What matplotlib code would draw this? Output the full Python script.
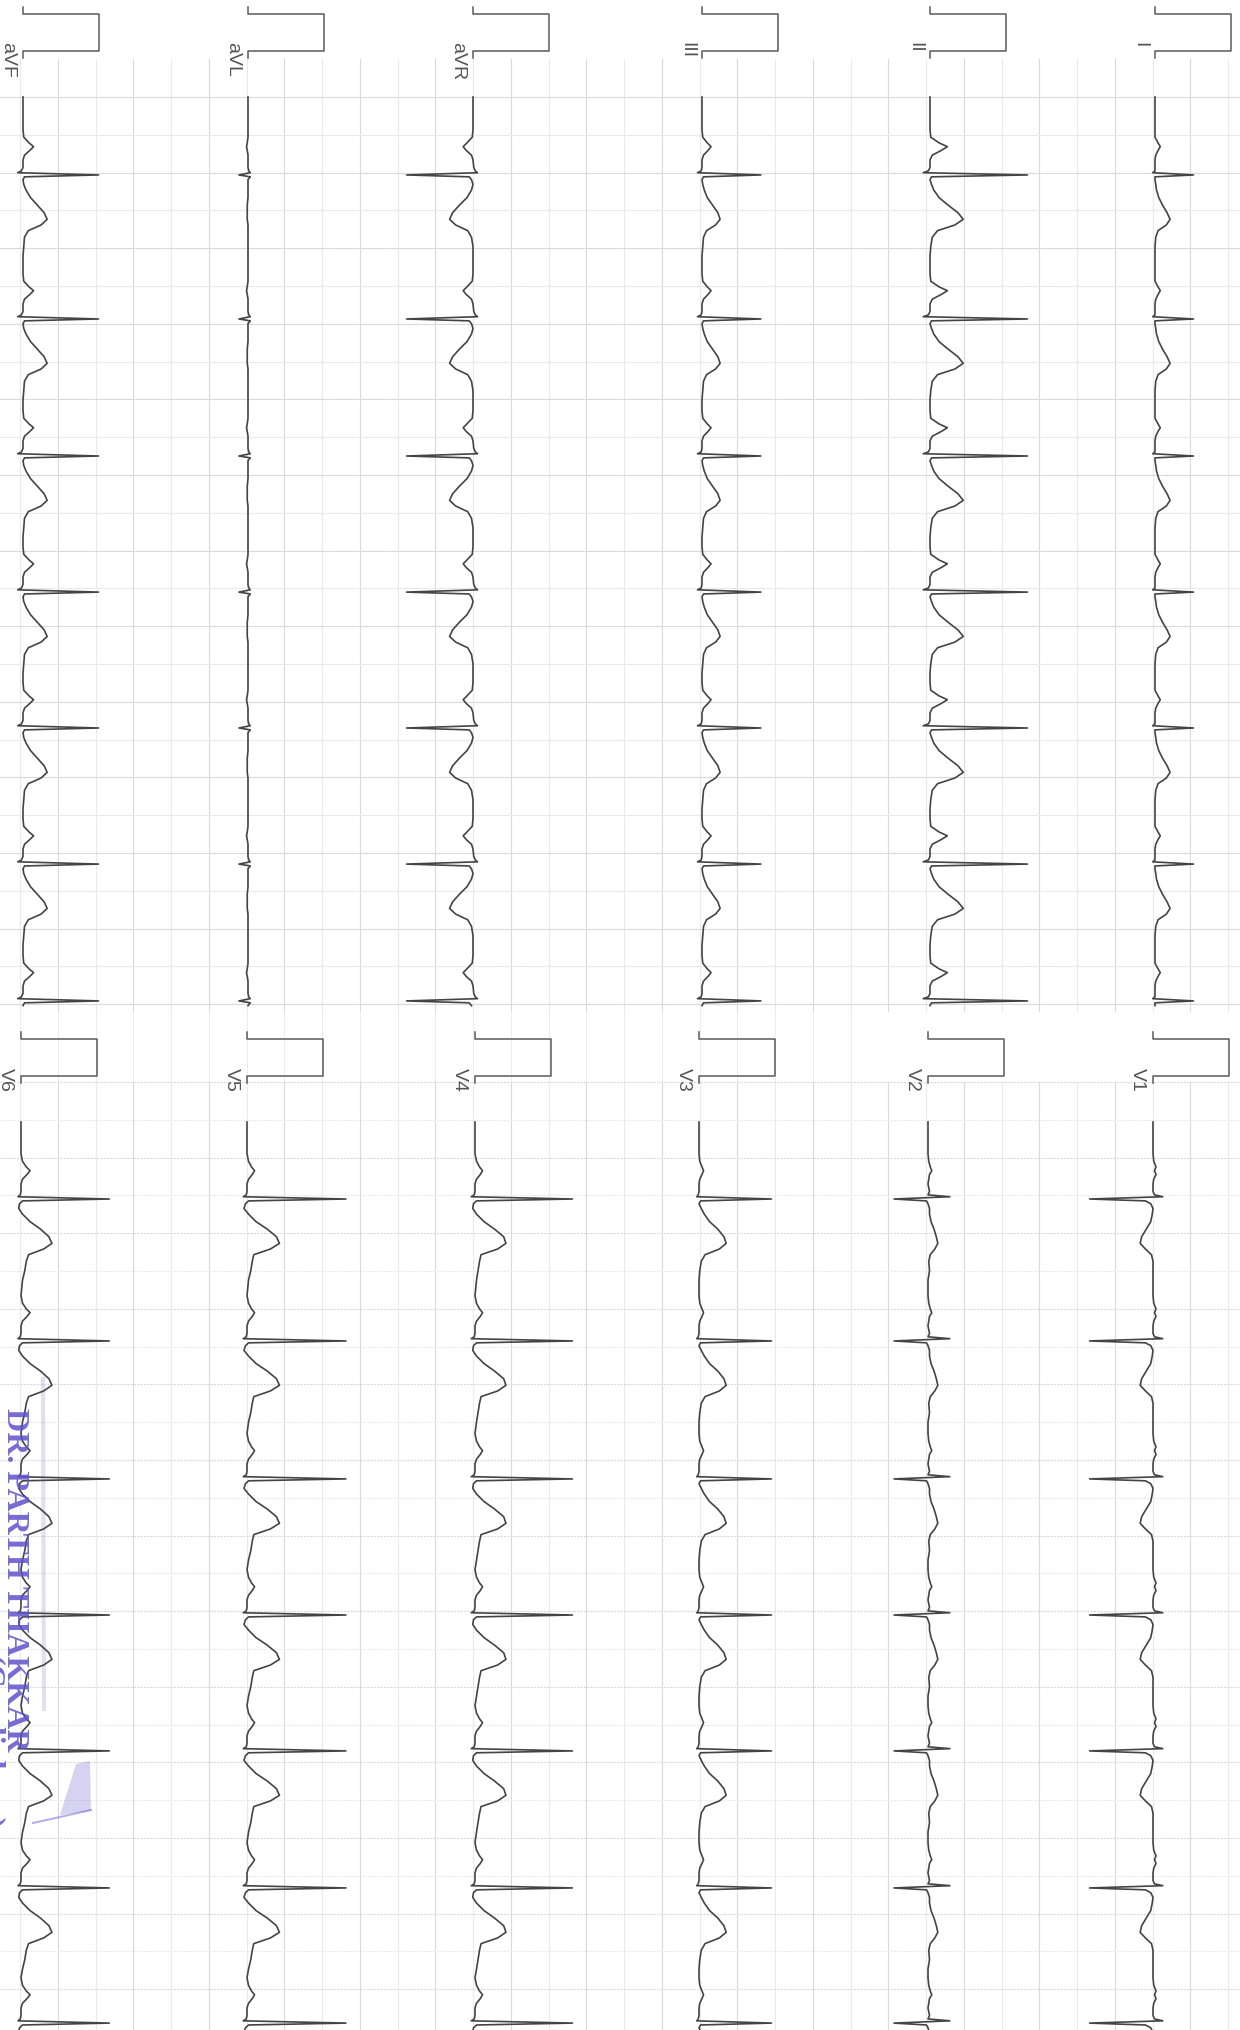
import numpy as np
import matplotlib
matplotlib.use("Agg")
import matplotlib.pyplot as plt
import matplotlib.transforms as mtransforms
from matplotlib.patches import Polygon

# ---- ECG data (scanned page, rotated: time runs down, +mV points right) ----
LEADS_TOP = ["I", "II", "III", "aVR", "aVL", "aVF"]
LEADS_BOTTOM = ["V1", "V2", "V3", "V4", "V5", "V6"]

# R-wave times (s) from the start of each strip
BEATS_TOP = [0.413, 1.176, 1.902, 2.623, 3.343, 4.064, 4.789]
BEATS_BOTTOM = [0.408, 1.160, 1.891, 2.612, 3.332, 4.058, 4.774]
STRIP_LEN = 4.83

# beat template: knot times (ms, relative to R) and amplitudes (mV) per lead
KNOTS_MS = [-240, -200, -170, -150, -130, -105, -80, -40, -22, -12, 0, 10,
            25, 50, 80, 120, 160, 200, 235, 265, 295, 330, 380, 430]

AMP_I = [0, 0, 0.04, 0.07, 0.04, 0.01, 0, 0, 0, -0.03, 0.51, 0.0,
         0.0, 0.01, 0.02, 0.05, 0.10, 0.16, 0.20, 0.15, 0.04, 0.01, 0, 0]
AMP_II = [0, 0.01, 0.12, 0.23, 0.15, 0.03, 0, 0, -0.02, -0.09, 1.29, 0.02,
          0.0, 0.02, 0.05, 0.12, 0.24, 0.37, 0.44, 0.33, 0.10, 0.03, 0.01, 0]
AMP_III = [0, 0.01, 0.07, 0.12, 0.08, 0.02, 0, 0, -0.01, -0.06, 0.78, 0.02,
           0, 0.01, 0.03, 0.07, 0.14, 0.21, 0.24, 0.18, 0.06, 0.02, 0.01, 0]
AMP_AVR = [0, -0.01, -0.08, -0.13, -0.09, -0.02, 0.0, 0.01, 0.03, 0.06, -0.88, -0.05,
           -0.02, 0.0, -0.02, -0.08, -0.18, -0.27, -0.31, -0.23, -0.07, -0.02, 0, 0]
AMP_AVL = [0, 0, -0.01, -0.02, -0.01, 0, 0, 0, 0.01, 0.03, -0.12, 0.03,
           0, 0, 0, 0, -0.01, -0.01, -0.01, 0, 0, 0, 0, 0]
AMP_AVF = [0, 0.01, 0.08, 0.14, 0.09, 0.02, 0, 0, -0.02, -0.07, 1.00, 0.02,
           0, 0.01, 0.04, 0.10, 0.19, 0.28, 0.32, 0.24, 0.07, 0.02, 0.01, 0]

AMP_V1 = [0, 0.01, 0.04, 0.02, 0.04, 0.01, 0, 0, 0.02, 0.13, -0.84, -0.10,
          -0.03, 0, -0.01, -0.03, -0.09, -0.15, -0.17, -0.10, -0.02, 0, 0, 0]
AMP_V2 = [0, 0.01, 0.03, 0.05, 0.02, 0.01, 0, 0.02, 0.0, 0.29, -0.45, -0.02,
          0, 0.02, 0.02, 0.04, 0.08, 0.11, 0.13, 0.09, 0.03, 0.01, 0.02, 0]
AMP_V3 = [0, 0.01, 0.04, 0.06, 0.04, 0.01, 0, 0, -0.01, -0.03, 0.96, 0.02,
          0, 0.03, 0.07, 0.14, 0.25, 0.33, 0.36, 0.27, 0.08, 0.03, 0.01, 0]
AMP_V4 = [0, 0.02, 0.06, 0.10, 0.07, 0.02, 0, 0, -0.01, -0.05, 1.29, 0.02,
          -0.02, -0.03, 0.02, 0.12, 0.26, 0.38, 0.41, 0.30, 0.08, 0.06, 0.04, 0.02]
AMP_V5 = [0, 0.02, 0.06, 0.10, 0.07, 0.02, 0, 0, -0.01, -0.05, 1.31, 0.02,
          -0.02, -0.04, 0.02, 0.12, 0.27, 0.39, 0.43, 0.31, 0.09, 0.07, 0.05, 0.02]
AMP_V6 = [0, 0.02, 0.07, 0.12, 0.08, 0.02, 0, 0, -0.01, -0.04, 1.17, 0.02,
          -0.02, -0.03, 0.02, 0.12, 0.26, 0.37, 0.41, 0.30, 0.10, 0.07, 0.05, 0.02]

AMPS_TOP = [AMP_I, AMP_II, AMP_III, AMP_AVR, AMP_AVL, AMP_AVF]
AMPS_BOTTOM = [AMP_V1, AMP_V2, AMP_V3, AMP_V4, AMP_V5, AMP_V6]

# 1 mV calibration pulse (mV vs s)
CAL_MV = [0, 0, 1, 1, 0, 0]
CAL_S = [0, 0.035, 0.035, 0.235, 0.235, 0.27]

STAMP_NAME = "DR. PARTH THAKKAR"
STAMP_DEPT = "(Cardiology)"

# ---- layout (pixels of the scanned page) ----
W, H = 1240, 2031
PX_PER_MV = 75.5          # 10 mm / mV
PX_PER_S = 188.75         # 25 mm / s
BASE_TOP = [1155, 930, 702, 473, 248, 23]
BASE_BOTTOM = [1153, 928, 699, 475, 247, 21]
Y0_TOP, Y0_BOTTOM = 98, 1123
CAL_Y_TOP, CAL_Y_BOTTOM = 8, 1033
LABEL_Y_TOP, LABEL_Y_BOTTOM = 42, 1068

TRACE = "#444444"
GRID_A = "#d8dae0"
GRID_B = "#e9eaee"


def build_trace(beats, amps):
    t = [0.0]
    v = [0.0]
    for b in beats:
        for k, a in zip(KNOTS_MS, amps):
            tt = b + k / 1000.0
            if 0 <= tt <= STRIP_LEN:
                t.append(tt)
                v.append(a)
    return np.array(v), np.array(t)


fig = plt.figure(figsize=(W / 100, H / 100), dpi=100)
ax = fig.add_axes([0, 0, 1, 1])
ax.set_xlim(0, W)
ax.set_ylim(H, 0)
ax.axis("off")
fig.patch.set_facecolor("white")

# grid paper
xs = 20 + 37.75 * np.arange(0, 33)
for i, x in enumerate(xs):
    c = GRID_A if i % 2 == 1 else GRID_B
    ax.plot([x, x], [60, 1012], color=c, lw=0.8, zorder=0)
    ax.plot([x, x], [1083, H], color=c, lw=0.8, zorder=0)
    if x < 860:
        ax.plot([x, x], [1012, 1083], color=GRID_B, lw=0.6, zorder=0)
for i, y in enumerate(98 + 37.8 * np.arange(0, 25)):
    ax.plot([0, W], [y, y], color=GRID_A if i % 2 == 0 else GRID_B, lw=0.8, zorder=0)
for i, y in enumerate(1083 + 37.8 * np.arange(0, 25)):
    if y < H:
        ax.plot([0, W], [y, y], color=GRID_A if i % 2 == 0 else GRID_B, lw=0.8,
                ls=(0, (2, 1)), zorder=0)

# traces, calibration pulses, labels
for leads, amps, bases, y0, cy, ly, beats in [
        (LEADS_TOP, AMPS_TOP, BASE_TOP, Y0_TOP, CAL_Y_TOP, LABEL_Y_TOP, BEATS_TOP),
        (LEADS_BOTTOM, AMPS_BOTTOM, BASE_BOTTOM, Y0_BOTTOM, CAL_Y_BOTTOM, LABEL_Y_BOTTOM, BEATS_BOTTOM)]:
    for name, amp, bx in zip(leads, amps, bases):
        tr = mtransforms.Affine2D().scale(PX_PER_MV, PX_PER_S).translate(bx, y0) + ax.transData
        v, t = build_trace(beats, amp)
        ax.plot(v, t, color=TRACE, lw=1.2, transform=tr, solid_joinstyle="round", zorder=3)
        trc = mtransforms.Affine2D().scale(PX_PER_MV, PX_PER_S).translate(bx, cy) + ax.transData
        ax.plot(CAL_MV, CAL_S, color="#5a5a5a", lw=1.1, transform=trc, zorder=3)
        ax.text(bx - 7, ly, name, rotation=-90, ha="right", va="top",
                fontsize=14, family=["Liberation Sans", "DejaVu Sans"], color="#555555", zorder=3)

# doctor's stamp
stamp = "#5e52cc"
ax.plot([43, 44], [1380, 1710], color=stamp, lw=3, alpha=0.18, zorder=1)
ax.add_patch(Polygon([[76, 1765], [90, 1762], [91, 1812], [60, 1816]], closed=True,
                     facecolor=stamp, edgecolor="none", alpha=0.25, zorder=1))
ax.plot([33, 60, 91], [1824, 1818, 1811], color=stamp, lw=1.5, alpha=0.45, zorder=1)
ax.text(29, 1408, STAMP_NAME, rotation=-90, ha="right", va="top", fontsize=23,
        fontweight="bold", family=["Liberation Serif", "DejaVu Serif"], color=stamp,
        alpha=0.85, zorder=4)
ax.text(4, 1655, STAMP_DEPT, rotation=-90, ha="right", va="top", fontsize=23,
        fontweight="bold", family=["Liberation Serif", "DejaVu Serif"], color=stamp,
        alpha=0.85, zorder=4)

fig.savefig("out.png", dpi=100, facecolor="white")
